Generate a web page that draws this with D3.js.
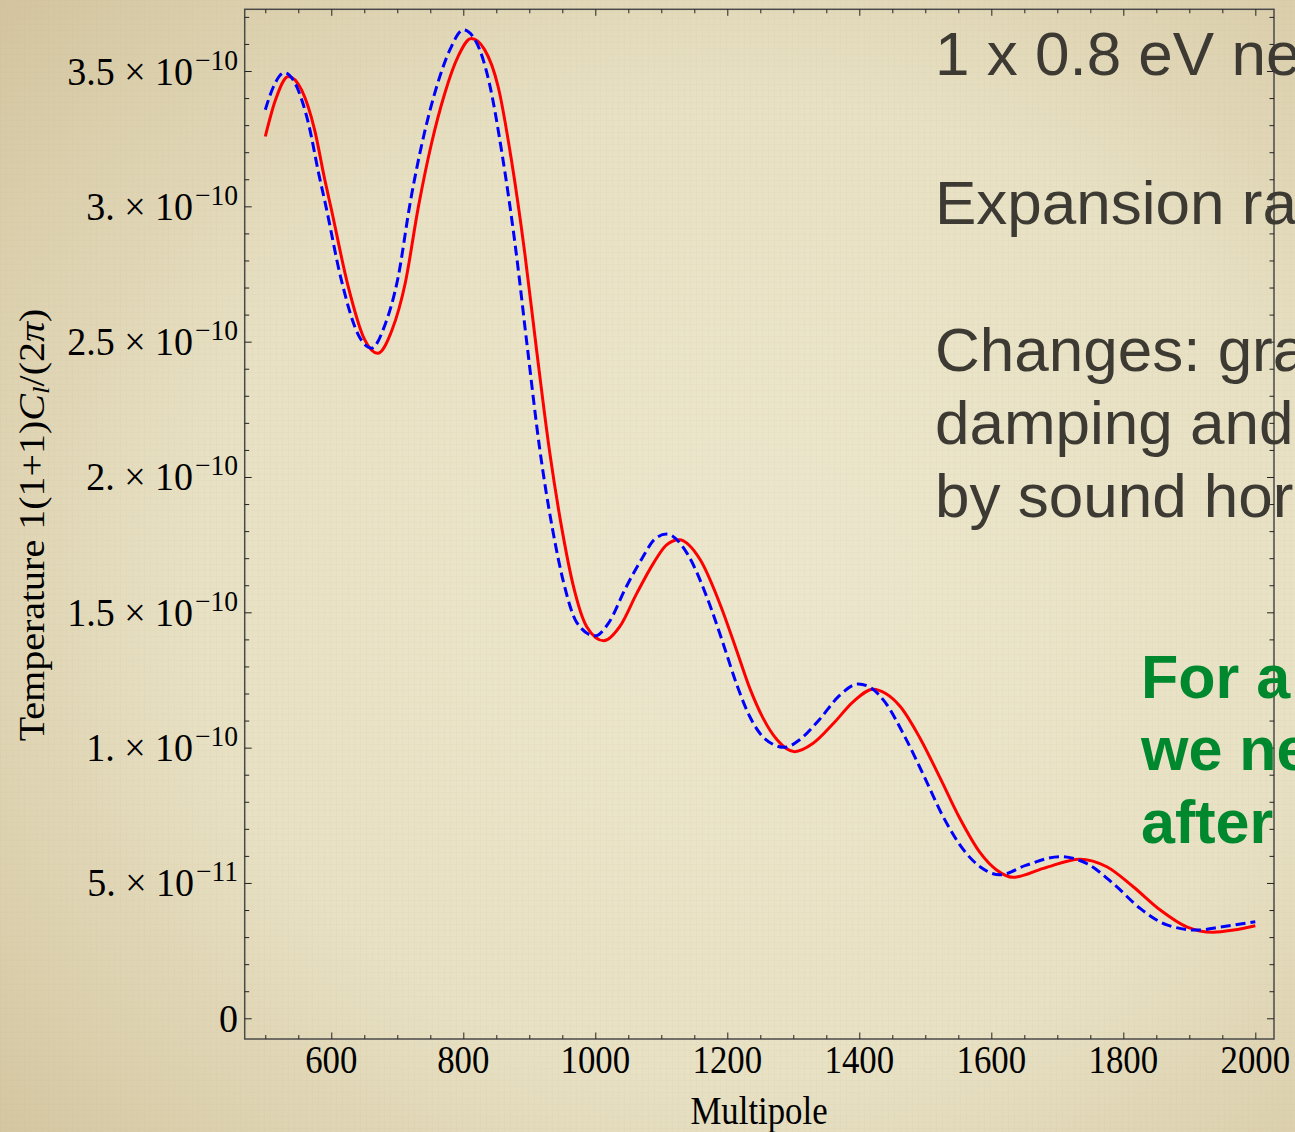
<!DOCTYPE html>
<meta charset="utf-8">
<style>
body{
  margin: 0;
  overflow: hidden;
  background: #e6dfc3;
}
text{
  font-family: "Liberation Serif", "Times New Roman", serif;
}
.slide{
  font-family: "Liberation Sans", Arial, sans-serif;
  font-size: 62px;
  fill: #3c3a33;
}
.note{
  font-family: "Liberation Sans", Arial, sans-serif;
  font-size: 61px;
  font-weight: bold;
  fill: #00882e;
}
.tick line{
  stroke: #222;
  stroke-width: 1;
}
</style>
<svg id="chart" width="1295" height="1132"></svg>
<script src="https://cdn.jsdelivr.net/npm/d3@7"></script>
<script>

// red solid curve: multipole l, value in units of 1e-10
var redL = [500, 515, 535, 555, 575, 590, 600, 625, 650, 670, 692, 712, 732, 752, 772, 792, 812,
  832, 853, 873, 893, 911, 931, 950, 967, 987, 1013, 1037, 1063, 1088, 1108, 1127,
  1159, 1189, 1214, 1234, 1254, 1275, 1302, 1330, 1361, 1391, 1421, 1440, 1462, 1492, 1522,
  1552, 1583, 1608, 1633, 1679, 1734, 1775, 1815, 1856, 1896, 1936, 1967, 2000]
var redV = [3.258, 3.39, 3.48, 3.43, 3.28, 3.10, 2.99, 2.71, 2.51, 2.457, 2.543, 2.716, 2.999, 3.234, 3.418, 3.553, 3.62,
  3.58, 3.44, 3.17, 2.83, 2.47, 2.09, 1.80, 1.595, 1.447, 1.395, 1.447, 1.571, 1.681, 1.749, 1.768,
  1.694, 1.53, 1.36, 1.22, 1.11, 1.03, 0.985, 1.016, 1.09, 1.17, 1.216, 1.20, 1.152, 1.035, 0.89,
  0.74, 0.612, 0.548, 0.521, 0.554, 0.588, 0.56, 0.486, 0.40, 0.338, 0.318, 0.326, 0.342]

// blue dashed curve
var blueL = [500, 512, 529, 548, 566, 581, 591, 615, 640, 661, 681, 701, 720, 740, 760, 780, 800,
  819, 839, 859, 879, 897, 916, 935, 952, 972, 999.5, 1020, 1046, 1071, 1090, 1108,
  1140, 1170, 1195, 1214, 1234, 1256, 1287, 1310, 1340, 1369, 1398.5, 1418, 1439, 1468, 1498,
  1527, 1558, 1584, 1613, 1652, 1704, 1746, 1786, 1826, 1866, 1911, 1950, 2000]
var blueV = [3.357, 3.44, 3.494, 3.44, 3.30, 3.12, 3.01, 2.73, 2.53, 2.476, 2.56, 2.735, 3.02, 3.26, 3.445, 3.58, 3.652,
  3.61, 3.46, 3.19, 2.85, 2.48, 2.10, 1.81, 1.61, 1.462, 1.413, 1.46, 1.59, 1.70, 1.77, 1.789,
  1.714, 1.55, 1.375, 1.235, 1.115, 1.035, 1.001, 1.03, 1.105, 1.19, 1.235, 1.22, 1.168, 1.045, 0.895,
  0.745, 0.622, 0.558, 0.530, 0.565, 0.597, 0.57, 0.495, 0.405, 0.345, 0.326, 0.338, 0.357]

var xTicks = [600, 800, 1000, 1200, 1400, 1600, 1800, 2000]
var yTicks = [0, 0.5, 1, 1.5, 2, 2.5, 3, 3.5]
var yMant = ['0', '5.', '1.', '1.5', '2.', '2.5', '3.', '3.5']
var yExp = ['', '\u221211', '\u221210', '\u221210', '\u221210', '\u221210', '\u221210', '\u221210']

var slideLines = ['1 x 0.8 eV neutrino', 'Expansion rate', 'Changes: gravity', 'damping and', 'by sound horizon']
var noteLines = ['For a', 'we need', 'after']

var W = 1295, H = 1132
var svg = d3.select('#chart')

var x = d3.scaleLinear().domain([468.8, 2028.3]).range([244.7, 1274])
var y = d3.scaleLinear().domain([-0.0765, 3.728]).range([1039, 9.3])

// paper background
var defs = svg.append('defs')
var paper = defs.append('radialGradient').attr('id', 'paper')
    .attr('cx', '58%').attr('cy', '52%').attr('r', '78%')
paper.append('stop').attr('offset', '0%').attr('stop-color', '#ece7cd')
paper.append('stop').attr('offset', '55%').attr('stop-color', '#e8e1c4')
paper.append('stop').attr('offset', '100%').attr('stop-color', '#d3c49e')

var weave = defs.append('pattern').attr('id', 'weave')
    .attr('width', 6).attr('height', 6).attr('patternUnits', 'userSpaceOnUse')
weave.append('path').attr('d', 'M0 0.5 H6 M0.5 0 V6')
    .attr('stroke', '#b8a982').attr('stroke-width', 1).attr('opacity', 0.08)

svg.append('rect').attr('width', W).attr('height', H).attr('fill', 'url(#paper)')
svg.append('rect').attr('width', W).attr('height', H).attr('fill', 'url(#weave)')

// frame
var x0 = x.range()[0], x1 = x.range()[1], y0 = y.range()[1], y1 = y.range()[0]
svg.append('rect')
    .attr('x', x0).attr('y', y0).attr('width', x1 - x0).attr('height', y1 - y0)
    .attr('fill', 'none').attr('stroke', '#4a4a4a').attr('stroke-width', 1.5)

// ticks on all four sides, pointing in
var xMinor = d3.range(500, 2001, 50).filter(function(d){ return d % 200 })
var yMinor = d3.range(0, 3.75, 0.1).filter(function(d){ return Math.abs(d * 2 - Math.round(d * 2)) > 0.01 })

function ticks(axis, vals, size, tr){
  svg.append('g').attr('transform', tr)
      .call(axis.tickValues(vals).tickSize(size).tickFormat(''))
      .call(function(g){ g.select('.domain').remove() })
}
ticks(d3.axisBottom(x), xTicks, -6.5, 'translate(0,' + y1 + ')')
ticks(d3.axisBottom(x), xMinor, -4, 'translate(0,' + y1 + ')')
ticks(d3.axisTop(x), xTicks, -6.5, 'translate(0,' + y0 + ')')
ticks(d3.axisTop(x), xMinor, -4, 'translate(0,' + y0 + ')')
ticks(d3.axisLeft(y), yTicks, -7, 'translate(' + x0 + ',0)')
ticks(d3.axisLeft(y), yMinor, -4.5, 'translate(' + x0 + ',0)')
ticks(d3.axisRight(y), yTicks, -7, 'translate(' + x1 + ',0)')
ticks(d3.axisRight(y), yMinor, -4.5, 'translate(' + x1 + ',0)')

// tick labels (Mathematica style, horizontally squeezed)
svg.selectAll('.xlab').data(xTicks).enter().append('text')
    .attr('class', 'xlab')
    .attr('transform', function(d){ return 'translate(' + x(d) + ',1073) scale(0.87,1)' })
    .attr('text-anchor', 'middle')
    .style('font-size', '40px')
    .text(function(d){ return d })

var ylab = svg.selectAll('.ylab').data(yTicks).enter().append('text')
    .attr('class', 'ylab')
    .attr('transform', function(d){ return 'translate(238,' + (y(d) + 13.5) + ') scale(0.95,1)' })
    .attr('text-anchor', 'end')
    .style('font-size', '40px')
ylab.append('tspan').text(function(d, i){ return i ? yMant[i] + ' \u00d7 10' : yMant[i] })
ylab.append('tspan')
    .attr('dx', 2).attr('dy', -15).style('font-size', '29px')
    .text(function(d, i){ return yExp[i] })

// axis titles
svg.append('text')
    .attr('transform', 'translate(759,1124) scale(0.87,1)')
    .attr('text-anchor', 'middle')
    .style('font-size', '40px')
    .text('Multipole')

var yt = svg.append('text')
    .attr('transform', 'translate(44,525) scale(0.87,1) rotate(-90)')
    .attr('text-anchor', 'middle')
    .style('font-size', '40px')
yt.append('tspan').text('Temperature 1(1+1)')
yt.append('tspan').style('font-style', 'italic').text('C')
yt.append('tspan').style('font-style', 'italic').style('font-size', '27px').attr('dy', 6).text('l')
yt.append('tspan').attr('dy', -6).text('/(2')
yt.append('tspan').style('font-style', 'italic').text('\u03c0')
yt.append('tspan').text(')')

// curves
var line = d3.line()
    .x(function(d){ return x(d[0]) })
    .y(function(d){ return y(d[1]) })
    .curve(d3.curveMonotoneX)

svg.append('path')
    .datum(d3.zip(redL, redV))
    .attr('d', line)
    .attr('fill', 'none').attr('stroke', '#ff0000').attr('stroke-width', 3)

svg.append('path')
    .datum(d3.zip(blueL, blueV))
    .attr('d', line)
    .attr('fill', 'none').attr('stroke', '#0000ff').attr('stroke-width', 3)
    .attr('stroke-dasharray', '10,5')

// slide text laid over the plot, running off the right edge
var slideY = [75, 224, 371, 444, 517]
svg.selectAll('.slide').data(slideLines).enter().append('text')
    .attr('class', 'slide')
    .attr('x', 935)
    .attr('y', function(d, i){ return slideY[i] })
    .text(function(d){ return d })

var noteY = [698, 770, 843]
svg.selectAll('.note').data(noteLines).enter().append('text')
    .attr('class', 'note')
    .attr('x', 1141)
    .attr('y', function(d, i){ return noteY[i] })
    .text(function(d){ return d })

</script>
